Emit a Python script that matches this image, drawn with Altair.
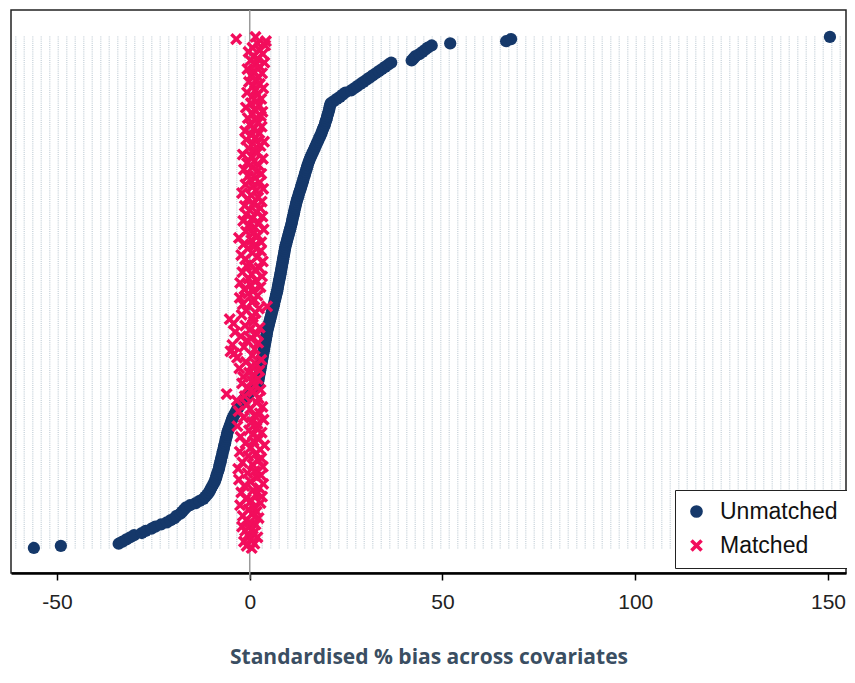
import altair as alt
import pandas as pd

# Standardised % bias per covariate, sorted by unmatched bias (bottom -> top)
unmatched = [
    -56, -49,
    -34, -33, -32, -31, -30,
    -28, -27, -25.5, -24.5,
    -23, -21.5, -20.5, -19.5, -19,
    -18, -17.5, -17, -16.5, -15.5,
    -14, -13, -12, -11.5, -11,
    -10.6, -10.3, -10, -9.7, -9.4, -9.1,
    -8.9, -8.7, -8.6, -8.4, -8.2, -8.0, -7.9, -7.8, -7.6, -7.5, -7.4,
    -7.2, -7.1, -7.0, -6.8, -6.7, -6.6, -6.4, -6.3, -6.2, -6.0, -5.9, -5.8, -5.6,
    -5.4, -5.2, -5.0, -4.8, -4.6, -4.4, -4.1, -3.8,
    -3.5, -3.2, -2.8, -2.5, -2.1, -1.7, -1.3,
    -0.8, -0.4, 0.0, 0.5, 1.0, 1.5, 2.1,
    2.2, 2.3, 2.4, 2.5, 2.6, 2.7, 2.8, 2.9, 3.0, 3.1, 3.2, 3.3, 3.4, 3.5, 3.6,
    3.7, 3.8, 3.9, 4.0, 4.1, 4.2, 4.3, 4.4, 4.5, 4.6,
    4.75, 4.9, 5.0, 5.15, 5.3, 5.45, 5.6, 5.7, 5.85, 6.0, 6.15, 6.3, 6.4, 6.55,
    6.7, 6.8, 6.95, 7.1, 7.2,
    7.3, 7.4, 7.5, 7.6, 7.75, 7.85, 7.95, 8.05, 8.15, 8.25, 8.35, 8.45, 8.55,
    8.65, 8.75, 8.85, 8.95, 9.05, 9.15, 9.25, 9.4, 9.55, 9.7,
    9.85, 10.0, 10.15, 10.3, 10.45, 10.6, 10.75, 10.9, 11.0, 11.1, 11.25, 11.4,
    11.5, 11.6, 11.75, 11.9, 12.0, 12.15, 12.3,
    12.5, 12.65, 12.8, 13.0, 13.2, 13.35, 13.5, 13.7, 13.85, 14.0, 14.2, 14.35,
    14.5, 14.7, 14.85, 15.0, 15.2, 15.4,
    15.6, 15.85, 16.1, 16.35, 16.6, 16.85, 17.1, 17.35, 17.6, 17.85, 18.1, 18.35,
    18.6, 18.8, 19.0, 19.25, 19.5,
    19.6, 19.8, 20.0, 20.1, 20.3, 20.45, 20.6, 20.7, 20.85, 21.0,
    21.8, 22.6, 23.4, 24.1, 24.8,
    26.3, 27.1, 27.9, 28.7, 29.5, 30.3, 31.1, 31.9, 32.7, 33.5, 34.3, 35.1, 35.9, 36.7,
    42, 42.5, 43, 44, 44.8, 45.5, 46.2, 47.2,
    52, 66.5, 67.8, 150.5,
]

matched = [
    0.5, -0.8, 1.2, -1.5, 0.2, 2.0, -0.5, 1.0, -1.2, 0.8,
    -2.0, 1.5, 0.0, -0.9, 2.3, -1.8, 0.6, 1.8, -0.3, 1.1,
    -2.5, 2.8, 0.4, -1.0, 3.2, 1.6, -2.2, 0.9, 2.5, -1.4,
    3.5, 0.2, -2.8, 1.9, 2.9, -0.6, 1.3, -3.0, 3.4, 0.7,
    -1.9, 2.2, 3.0, -0.4, 1.5, -2.6, 2.7, 0.3, 3.8, -1.1,
    1.0, 2.4, -2.4, 0.8, 3.1, -0.2, 1.7, -3.2, 2.0, 0.5,
    3.6, -1.6, 1.2, 2.6, -2.9, 0.1, 3.3, -0.8, 1.8, -3.4,
    2.3, -1.3, -6.0, 0.9, 2.8, -0.5, 1.4, -2.0, 0.6, 2.1,
    -1.7, 1.1, -0.2, 2.5, -2.7, 0.4, 1.6, -1.0, 3.0, -3.3,
    0.7, -4.0, -5.0, 1.3, -1.5, -4.5, 2.2, -0.7, 0.3, -2.3,
    1.9, -3.8, 0.0, 2.6, -1.2, -4.2, 1.0, -5.2, 0.8, -2.1,
    1.5, -0.9, 2.4, 4.5, -1.8, 0.6, 1.2, -2.6, 2.0, -0.4,
    0.9, -1.4, 2.8, 0.2, -2.5, 1.7, -0.3, 3.2, 0.5, -1.9,
    1.4, 2.5, -0.8, 0.1, 3.4, -1.2, 1.9, -2.2, 0.7, 2.9,
    -0.5, 1.1, -1.6, 3.0, 0.4, -2.8, 2.1, 0.8, -1.0, 3.6,
    1.3, -0.2, 2.4, -1.7, 0.6, 3.3, -0.9, 1.8, 0.0, 2.7,
    -1.3, 1.0, 3.1, -0.6, 2.2, 0.3, -2.0, 1.6, 3.5, 0.8,
    -1.1, 2.6, 0.2, 1.4, -0.4, 3.0, 1.9, -1.5, 0.7, 2.3,
    -0.7, 1.2, 3.4, 0.5, -1.8, 2.0, 1.1, -0.3, 2.8, 0.9,
    3.7, -0.9, 1.6, 0.4, 2.5, -1.2, 1.0, 3.1, 0.0, 2.2,
    1.5, -0.5, 2.9, 0.8, 3.3, 1.2, -1.0, 2.4, 0.3, 1.8,
    3.0, 0.6, 2.1, -0.7, 1.4, 3.5, 0.9, 2.6, -0.2, 1.7,
    2.3, 0.4, 3.2, 1.0, -0.6, 2.7, 1.5, 3.8, 0.2, 2.0,
    1.1, 3.4, -0.3, 2.5, 0.7, 4.0, 2.0, 4.2, -3.5, 1.5,
]

series_names = ["Unmatched", "Matched"]
series_colors = ["#15386a", "#f20d5c"]
x_ticks = [-50, 0, 50, 100, 150]
x_title = "Standardised % bias across covariates"

n = min(len(unmatched), len(matched))
rows = list(range(n))
pts = pd.DataFrame({
    "row": rows + rows,
    "bias": unmatched[:n] + matched[:n],
    "series": [series_names[0]] * n + [series_names[1]] * n,
})
grid = pd.DataFrame({"row": rows})
zero_df = pd.DataFrame({"bias": [0]})

X_PATH = ("M-1,-0.6L-0.6,-1L0,-0.4L0.6,-1L1,-0.6L0.4,0L1,0.6L0.6,1L0,0.4"
          "L-0.6,1L-1,0.6L-0.4,0Z")

W, H = 835, 563
xscale = alt.Scale(domain=[-61.93, 154.67], nice=False, zero=False)
yscale = alt.Scale(domain=[-11.7, 251.6], nice=False, zero=False)

xaxis = alt.Axis(
    values=x_ticks, grid=False, title=x_title,
    domainColor="#000000", domainWidth=2.5,
    tickColor="#000000", tickWidth=1.5, tickSize=7,
    labelFont="Liberation Sans", labelFontSize=21, labelColor="#222222",
    labelPadding=11, labelExpr="'' + datum.value", labelOverlap=False,
    titleFont="Open Sans", titleFontSize=21,
    titleFontWeight="bold", titleColor="#3a4e62", titlePadding=34,
)

gridlines = alt.Chart(grid).mark_rule(
    color="#cdd7de", strokeWidth=1, strokeDash=[1.5, 7]
).encode(
    y=alt.Y("row:Q", scale=yscale, axis=None),
    x=alt.value(4),
    x2=alt.value(W - 4),
)

zero = alt.Chart(zero_df).mark_rule(color="#9a9a9a", strokeWidth=1.5).encode(
    x=alt.X("bias:Q", scale=xscale, axis=xaxis),
    y=alt.value(0),
    y2=alt.value(H + 6),
)

legend = alt.Legend(
    title=None, orient="none", legendX=664, legendY=480, direction="vertical",
    labelFont="Liberation Sans", labelFontSize=23, labelColor="#111111",
    symbolSize=160, symbolOpacity=1, strokeColor="#222222", fillColor="white",
    padding=10, rowPadding=10, labelOffset=12, cornerRadius=0,
)

points = alt.Chart(pts).mark_point(filled=True, opacity=1, size=150).encode(
    x=alt.X("bias:Q", scale=xscale, axis=xaxis),
    y=alt.Y("row:Q", scale=yscale, axis=None),
    color=alt.Color("series:N", scale=alt.Scale(domain=series_names, range=series_colors), legend=legend),
    shape=alt.Shape("series:N", scale=alt.Scale(domain=series_names, range=["circle", X_PATH]), legend=legend),
)

chart = alt.layer(gridlines, zero, points).properties(
    width=W, height=H,
    autosize=alt.AutoSizeParams(type="none"),
    padding={"left": 3, "top": 2, "right": 1, "bottom": 95},
).configure_view(stroke="#222222", strokeWidth=1.5)

chart.save("out.html", embed_options={"renderer": "svg", "actions": False})
